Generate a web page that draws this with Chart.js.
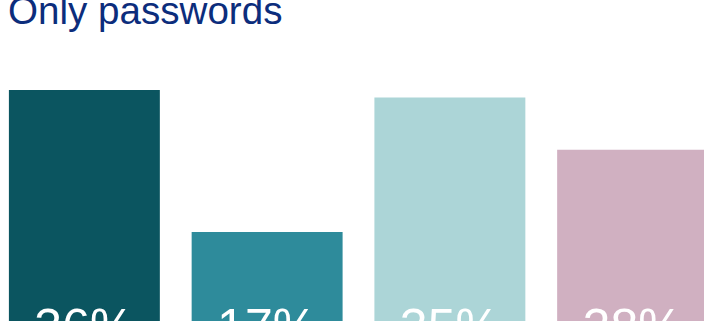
<!DOCTYPE html>
<html>
<head>
<meta charset="utf-8">
<script src="https://cdn.jsdelivr.net/npm/chart.js@4"></script>
<style>
  html, body { margin: 0; padding: 0; width: 704px; height: 321px; overflow: hidden; background: #fff; }
  #titulo {
    position: absolute; left: 8px; top: -11px; margin: 0;
    font: 400 38.6px "Liberation Sans", Arial, sans-serif; color: #0c2d7c; white-space: nowrap;
  }
  #caja { position: absolute; left: -7px; top: 60px; width: 731px; height: 299px; }
</style>
</head>
<body>
<h1 id="titulo">Only passwords</h1>
<div id="caja"><canvas id="grafico"></canvas></div>
<script>
// datos de la grafica
const categorias = ['A', 'B', 'C', 'D'];
const valores = [36, 17, 35, 28];
const colores = ['#0b5560', '#2e8b9b', '#acd5d7', '#d0b0c1'];

/**
 * escribe el porcentaje de cada barra cerca de su base
 */
const etiquetasBarras = {
    id: 'etiquetasBarras',
    afterDatasetsDraw(chart) {
        const ctx = chart.ctx;
        const base = chart.scales.y.getPixelForValue(0);
        ctx.save();
        ctx.fillStyle = '#ffffff';
        ctx.font = '50px "Liberation Sans", Arial, sans-serif';
        ctx.textAlign = 'center';
        ctx.textBaseline = 'alphabetic';
        chart.getDatasetMeta(0).data.forEach((barra, i) => {
            ctx.fillText(valores[i] + '%', barra.x, base - 15);
        });
        ctx.restore();
    }
};

new Chart(document.getElementById('grafico'), {
    type: 'bar',
    data: {
        labels: categorias,
        datasets: [{
            data: valores,
            backgroundColor: colores,
            borderWidth: 0,
            categoryPercentage: 1,
            barPercentage: 0.826
        }]
    },
    options: {
        responsive: true,
        maintainAspectRatio: false,
        animation: false,
        layout: { padding: 0 },
        plugins: {
            legend: { display: false },
            tooltip: { enabled: false },
            title: { display: false }
        },
        scales: {
            x: { display: false },
            y: { display: false, min: 0, max: 40 }
        }
    },
    plugins: [etiquetasBarras]
});
</script>
</body>
</html>
